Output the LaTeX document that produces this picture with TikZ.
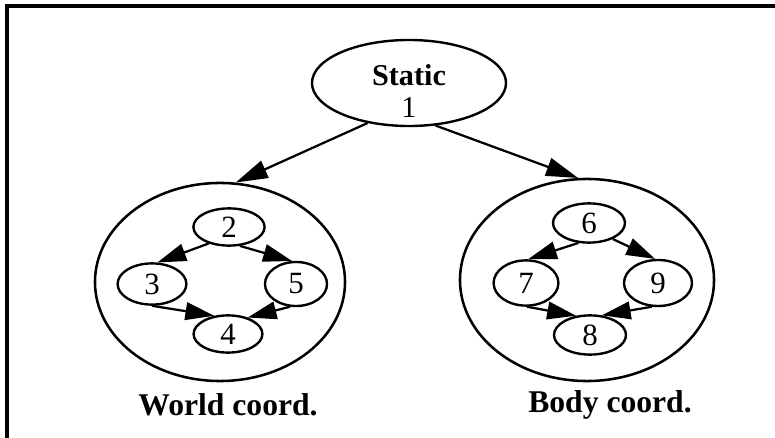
\documentclass[tikz,border=0pt]{standalone}
\usepackage{fontspec}
\setmainfont{Liberation Serif}
\usetikzlibrary{shapes.geometric}
\usetikzlibrary{arrows.meta}

\begin{document}
\begin{tikzpicture}[x=0.025cm,y=-0.025cm]
\tikzstyle{vertex} = [ellipse, draw=black, line width=1.7pt, inner sep=0pt, font=\fontsize{22}{22}\selectfont]
\tikzstyle{cluster} = [ellipse, draw=black, line width=1.8pt, inner sep=0pt]
\tikzstyle{edge} = [draw=black, line width=1.6pt, -{Triangle[length=0.72cm,width=0.44cm]}]
\tikzstyle{bigedge} = [edge, -{Triangle[length=0.8cm,width=0.46cm]}]
\tikzstyle{caption} = [anchor=base, font=\fontsize{22.5}{22.5}\selectfont\bfseries]

\useasboundingbox (0,0) rectangle (775,438);
\draw[line width=2.4pt] (7,438) -- (7,6) -- (775,6);

\node[vertex, minimum width=4.85cm, minimum height=2.15cm,
  label={[yshift=-0.2cm, align=center, font=\fontsize{21.5}{22.5}\selectfont]center:\textbf{Static}\\1}]
  (static) at (409,83) {};

\node[cluster, minimum width=6.25cm, minimum height=4.95cm] (world) at (220,282) {};
\node[cluster, minimum width=6.35cm, minimum height=5.05cm] (body) at (587,280) {};

\node[vertex, minimum width=1.78cm, minimum height=0.93cm] (v2) at (229,227) {2};
\node[vertex, minimum width=1.72cm, minimum height=1.03cm] (v3) at (152,284) {3};
\node[vertex, minimum width=1.55cm, minimum height=1.1cm] (v5) at (296,284) {5};
\node[vertex, minimum width=1.72cm, minimum height=0.93cm] (v4) at (228,334) {4};

\node[vertex, minimum width=1.8cm, minimum height=0.98cm] (v6) at (589,223) {6};
\node[vertex, minimum width=1.62cm, minimum height=1.13cm] (v7) at (526,283) {7};
\node[vertex, minimum width=1.7cm, minimum height=1.15cm] (v9) at (658,283) {9};
\node[vertex, minimum width=1.8cm, minimum height=0.98cm] (v8) at (590,335) {8};

\node[caption] (worldlabel) at (228,415) {World coord.};
\node[caption] (bodylabel) at (610,412) {Body coord.};

\draw[bigedge] (static.224) to (world.81);
\draw[bigedge] (static.302) to (body.95);

\draw[edge] (v2.219) to (v3.76);
\draw[edge] (v2.300) to (v5.100);
\draw[edge] (v3.270) to (v4.127);
\draw[edge] (v5.255) to (v4.40);

\draw[edge] (v6.242) to (v7.85);
\draw[edge] (v6.326) to (v9.97);
\draw[edge] (v7.273) to (v8.126);
\draw[edge] (v9.255) to (v8.59);
\end{tikzpicture}
\end{document}
